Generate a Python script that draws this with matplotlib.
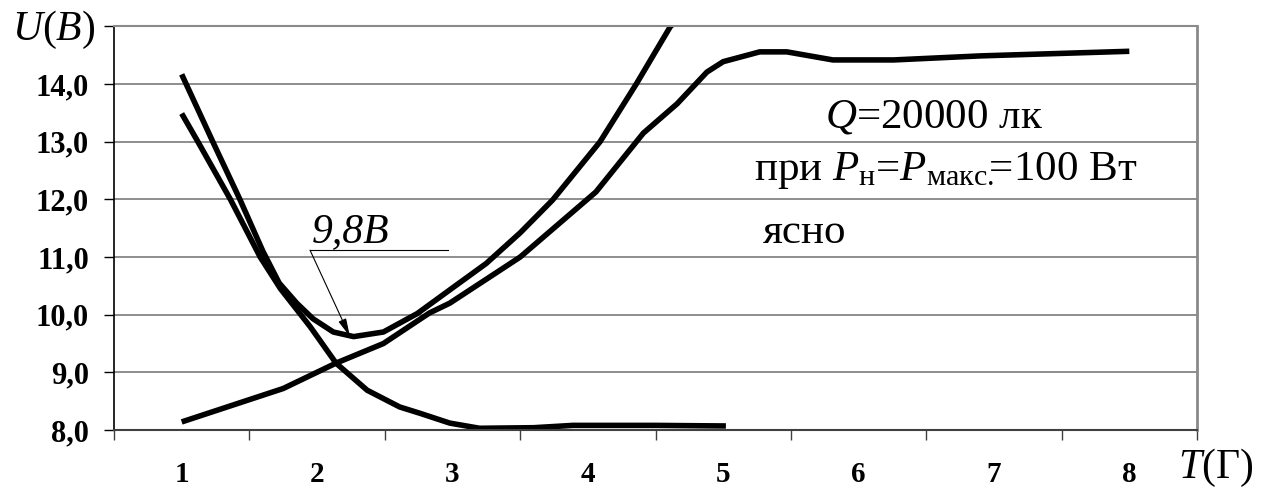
import matplotlib
matplotlib.use("Agg")
import matplotlib.pyplot as plt

plt.rcParams['font.family'] = ['Liberation Serif', 'DejaVu Serif']
plt.rcParams['mathtext.fontset'] = 'custom'
plt.rcParams['mathtext.rm'] = 'Liberation Serif'
plt.rcParams['mathtext.it'] = 'Liberation Serif:italic'
plt.rcParams['mathtext.bf'] = 'Liberation Serif:bold'

# curve with the 9,8 V minimum (goes off the top)
t_a = [1.0, 1.23, 1.43, 1.6, 1.72, 1.85, 1.97, 2.12, 2.27, 2.49, 2.74, 2.98, 3.25, 3.5, 3.74, 4.09, 4.36, 4.61, 4.7]
u_a = [14.17, 13.0, 12.0, 11.1, 10.55, 10.2, 9.93, 9.70, 9.62, 9.70, 10.02, 10.43, 10.89, 11.42, 11.99, 13.0, 14.01, 15.0, 15.2]

# falling curve that flattens at 8 V
t_b = [1.0, 1.12, 1.36, 1.58, 1.73, 1.95, 2.14, 2.37, 2.61, 2.76, 2.98, 3.2, 3.6, 3.89, 4.5, 5.02]
u_b = [13.49, 13.0, 12.0, 11.0, 10.45, 9.79, 9.16, 8.69, 8.40, 8.29, 8.12, 8.03, 8.04, 8.08, 8.08, 8.07]

# rising curve saturating near 14.5 V
t_c = [1.0, 1.75, 2.14, 2.49, 2.83, 2.98, 3.5, 4.06, 4.41, 4.66, 4.88, 5.0, 5.27, 5.47, 5.81, 6.26, 6.9, 8.0]
u_c = [8.14, 8.72, 9.16, 9.50, 10.03, 10.2, 11.0, 12.13, 13.15, 13.66, 14.21, 14.39, 14.56, 14.56, 14.42, 14.42, 14.49, 14.57]

x_labels = ['1', '2', '3', '4', '5', '6', '7', '8']
y_ticks = [8, 9, 10, 11, 12, 13, 14, 15]
y_labels = ['8,0', '9,0', '10,0', '11,0', '12,0', '13,0', '14,0', '']

fig = plt.figure(figsize=(12.69, 4.9), dpi=100)
ax = fig.add_axes([114/1269, 60/490, (1197-114)/1269, (430-26.5)/490])

for t, u in [(t_a, u_a), (t_b, u_b), (t_c, u_c)]:
    ax.plot(t, u, color='black', lw=4, solid_capstyle='butt', solid_joinstyle='round', clip_on=True)

ax.set_xlim(0.5, 8.5)
ax.set_ylim(8, 15)

ax.set_xticks([i + 0.5 for i in range(9)])
ax.set_xticklabels([])
ax.set_xticks(range(1, 9), minor=True)
ax.set_xticklabels(x_labels, minor=True, fontsize=21, fontweight='bold')
ax.tick_params(axis='x', which='major', direction='out', length=7, width=1.0, color='#404040')
ax.tick_params(axis='x', which='minor', length=0, pad=22)

ax.set_yticks(y_ticks)
ax.set_yticklabels(y_labels, fontsize=22, fontweight='bold')
ax.tick_params(axis='y', direction='out', length=7, width=1.0, pad=11, color='black')

ax.yaxis.grid(True, color='#7a7a7a', lw=1.2)
ax.set_axisbelow(True)
ax.spines['left'].set_color('black')
ax.spines['left'].set_linewidth(1.2)
ax.spines['bottom'].set_color('#404040')
ax.spines['bottom'].set_linewidth(1.5)
ax.spines['top'].set_color('#8a8a8a')
ax.spines['top'].set_linewidth(1.5)
ax.spines['right'].set_color('#8a8a8a')
ax.spines['right'].set_linewidth(2.0)

# annotation of the minimum
ax.plot([1.948, 2.965], [11.12, 11.12], color='black', lw=0.8)
ax.annotate('', xy=(2.243, 9.62), xytext=(1.948, 11.12),
            arrowprops=dict(arrowstyle='-|>,head_length=1.1,head_width=0.25',
                            color='black', lw=0.8, shrinkA=0, shrinkB=0, mutation_scale=10))
ax.text(1.96, 11.26, '9,8В', fontsize=30, style='italic', ha='left', va='baseline')

ax.text(6.56, 13.25, r'$Q$=20000 лк', fontsize=31, ha='center', va='baseline')
ax.text(6.64, 12.34, r'при $P_{\mathrm{н}}$=$P_{\mathrm{макс.}}\!\!$=100 Вт', fontsize=31,
        ha='center', va='baseline')
ax.text(5.29, 11.24, 'ясно', fontsize=31, ha='left', va='baseline')

fig.text(12/1269, (490-40)/490, r'$U(В)$', fontsize=30, ha='left', va='baseline')
fig.text(1178/1269, (490-478)/490, r'$T(\mathrm{Г})$', fontsize=30, ha='left', va='baseline')

fig.savefig('out.png', dpi=100)
